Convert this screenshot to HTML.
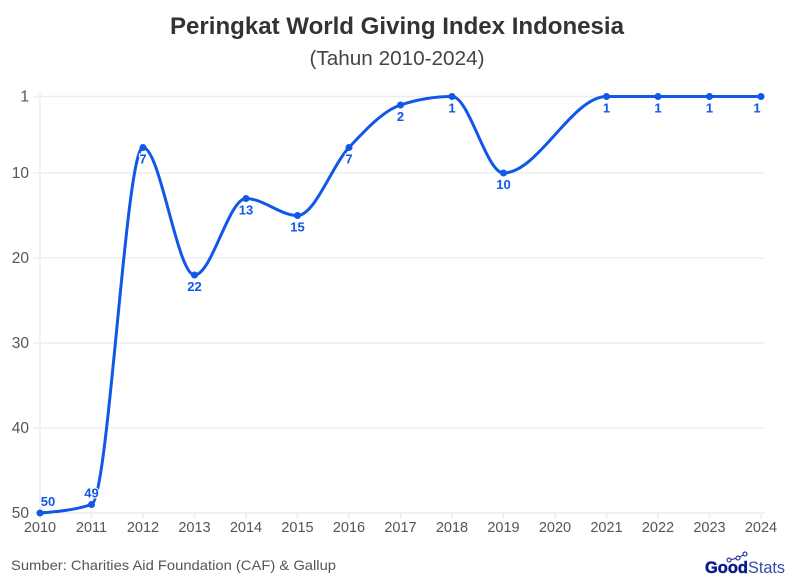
<!DOCTYPE html>
<html lang="id">
<head>
<meta charset="utf-8">
<title>Peringkat World Giving Index Indonesia</title>
<style>
html,body{margin:0;padding:0;background:#fff;width:794px;height:587px;overflow:hidden}
svg{display:block;font-family:"Liberation Sans",sans-serif}
</style>
</head>
<body>
<svg id="chart" xmlns="http://www.w3.org/2000/svg" width="794" height="587" viewBox="0 0 794 587">
  <text x="397" y="34" text-anchor="middle" font-size="24" font-weight="700" fill="#333" textLength="454" lengthAdjust="spacingAndGlyphs">Peringkat World Giving Index Indonesia</text>
  <text x="397" y="65" text-anchor="middle" font-size="20" fill="#444" textLength="175" lengthAdjust="spacingAndGlyphs">(Tahun 2010-2024)</text>
  <g id="grid"></g>
  <g id="x-axis"></g>
  <g id="y-axis"></g>
  <path id="line" fill="none" stroke="#1157e8" stroke-width="3"></path>
  <g id="points"></g>
  <g id="labels"></g>
  <text x="11" y="570" font-size="14" fill="#555" textLength="325" lengthAdjust="spacingAndGlyphs">Sumber: Charities Aid Foundation (CAF) &amp; Gallup</text>
  <g>
    <polyline points="729,560 738,558 745,554" fill="none" stroke="#0a1a8c" stroke-width="1"></polyline>
    <circle cx="729" cy="560" r="2" fill="#fff" stroke="#0a1a8c"></circle>
    <circle cx="738" cy="558" r="2" fill="#fff" stroke="#0a1a8c"></circle>
    <circle cx="745" cy="554" r="2" fill="#fff" stroke="#0a1a8c"></circle>
    <text x="705" y="573" font-size="17" font-weight="700" fill="#0a1a8c" stroke="#0a1a8c" stroke-width=".5" textLength="43" lengthAdjust="spacingAndGlyphs">Good</text>
    <text x="748" y="573" font-size="17" fill="#3a46a8" textLength="37" lengthAdjust="spacingAndGlyphs">Stats</text>
  </g>
</svg>
<script>
var years = ["2010","2011","2012","2013","2014","2015","2016","2017","2018","2019","2020","2021","2022","2023","2024"];
var ranks = [50,49,7,22,13,15,7,2,1,10,null,1,1,1,1];
var yTicks = [1,10,20,30,40,50];
var aboveYears = ["2010","2011"];

var NS = 'http://www.w3.org/2000/svg';
var X0 = 40, XSTEP = 51.5, Y_AT_50 = 513, Y_PER_RANK = 8.5;
function xScale(i){ return X0 + XSTEP * i; }
function yScale(v){ return Y_AT_50 - (50 - v) * Y_PER_RANK; }
function mk(tag, attrs, parent){
  var el = document.createElementNS(NS, tag);
  for (var k in attrs) el.setAttribute(k, attrs[k]);
  parent.appendChild(el);
  return el;
}
var grid = document.getElementById('grid');
var xAxis = document.getElementById('x-axis');
var yAxis = document.getElementById('y-axis');
var pointsG = document.getElementById('points');
var labelsG = document.getElementById('labels');

yTicks.forEach(function(t){
  var gl = mk('line', {x1:33, x2:765, y1:yScale(t), y2:yScale(t), stroke:'#eeeeee', 'stroke-width':1.5}, grid);
  
  
  var tx = mk('text', {x:29, y:yScale(t)+5, 'text-anchor':'end', 'font-size':15.5, fill:'#555'}, yAxis);
  
  
  tx.textContent = t;
});
var yl = mk('line', {x1:40, x2:40, y1:92, y2:519, stroke:'#eeeeee', 'stroke-width':1.5}, grid);



years.forEach(function(y, i){
  var tk = mk('line', {x1:xScale(i), x2:xScale(i), y1:513, y2:519, stroke:'#eeeeee', 'stroke-width':1.5}, xAxis);
  
  
  var tx = mk('text', {x:xScale(i), y:532, 'text-anchor':'middle', 'font-size':14.5, fill:'#555'}, xAxis);
  
  
  tx.textContent = y;
});

/* monotone-x cubic through the points that have a value */
function sign(v){ return v < 0 ? -1 : 1; }
function tangents(px, py){
  var n = px.length, t = [], s = [];
  for (var i = 0; i < n-1; i++) s.push((py[i+1]-py[i])/(px[i+1]-px[i]));
  for (var j = 1; j < n-1; j++){
    var h0 = px[j]-px[j-1], h1 = px[j+1]-px[j];
    var p = (s[j-1]*h1 + s[j]*h0)/(h0+h1);
    t[j] = (sign(s[j-1])+sign(s[j])) * Math.min(Math.abs(s[j-1]), Math.abs(s[j]), 0.5*Math.abs(p)) || 0;
  }
  t[0] = (3*s[0]-t[1])/2;
  t[n-1] = (3*s[n-2]-t[n-2])/2;
  return t;
}
var px = [], py = [];
ranks.forEach(function(r, i){
  if (r === null) return;
  px.push(xScale(i));
  py.push(yScale(r));
});
var tg = tangents(px, py);
var d = 'M' + px[0] + ',' + py[0];
for (var i = 0; i < px.length-1; i++){
  var dx = (px[i+1]-px[i])/3;
  d += 'C' + (px[i]+dx) + ',' + (py[i]+dx*tg[i]) + ' ' + (px[i+1]-dx) + ',' + (py[i+1]-dx*tg[i+1]) + ' ' + px[i+1] + ',' + py[i+1];
}
document.getElementById('line').setAttribute('d', d);

ranks.forEach(function(r, i){
  if (r === null) return;
  var c = mk('circle', {cx:xScale(i), cy:yScale(r), r:3.5, fill:'#1157e8'}, pointsG);
  
  
  var above = aboveYears.indexOf(years[i]) >= 0;
  var lx = xScale(i) + (i === 0 ? 8 : 0) - (i === years.length-1 ? 4 : 0);
  var ly = above ? yScale(r) - 7 : yScale(r) + 16;
  var tx = mk('text', {x:lx, y:ly, 'text-anchor':'middle', 'font-size':13, 'font-weight':700, fill:'#1157e8', stroke:'#fff', 'stroke-width':2, 'paint-order':'stroke'}, labelsG);
  
  
  tx.textContent = r;
});
</script>
</body>
</html>
